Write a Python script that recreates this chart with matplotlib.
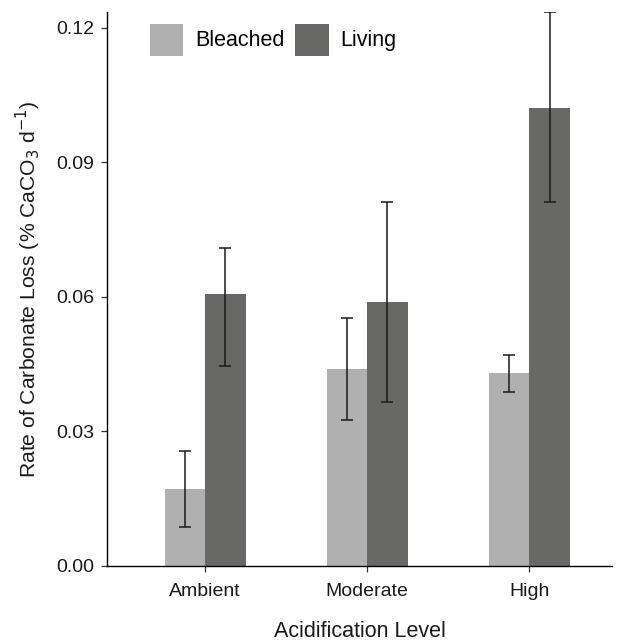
import numpy as np
import matplotlib
matplotlib.use("Agg")
import matplotlib.pyplot as plt

plt.rcParams['font.family'] = ['Liberation Sans', 'DejaVu Sans']

levels = ['Ambient', 'Moderate', 'High']
bleached = [0.0171, 0.0439, 0.0430]
bleached_lo = [0.0088, 0.0325, 0.0388]
bleached_hi = [0.0256, 0.0553, 0.0470]
living = [0.0606, 0.0588, 0.1022]
living_lo = [0.0445, 0.0365, 0.0811]
living_hi = [0.0708, 0.0811, 0.1235]

c_bleached = '#afb0af'
c_living = '#686866'

fig = plt.figure(figsize=(6.22, 6.42), dpi=100)
ax = fig.add_axes([0.172, 0.1184, 0.812, 0.8629])

x = np.arange(1, len(levels) + 1)
w = 0.25

b = np.array(bleached)
l = np.array(living)
yerr_b = [b - np.array(bleached_lo), np.array(bleached_hi) - b]
yerr_l = [l - np.array(living_lo), np.array(living_hi) - l]

ax.bar(x - w / 2, b, w, color=c_bleached, label='Bleached', zorder=2)
ax.bar(x + w / 2, l, w, color=c_living, label='Living', zorder=2)
ax.errorbar(x - w / 2, b, yerr=yerr_b, fmt='none', ecolor='#1a1a1a',
            elinewidth=1.1, capsize=4.4, capthick=1.1, zorder=3)
ax.errorbar(x + w / 2, l, yerr=yerr_l, fmt='none', ecolor='#1a1a1a',
            elinewidth=1.1, capsize=4.4, capthick=1.1, zorder=3)

ax.set_xlim(0.395, 3.51)
ax.set_ylim(0, 0.1235)
ax.set_xticks(x)
ax.set_xticklabels(levels)
ax.set_yticks([0, 0.03, 0.06, 0.09, 0.12])
ax.set_yticklabels(['0.00', '0.03', '0.06', '0.09', '0.12'])

for s in ['top', 'right']:
    ax.spines[s].set_visible(False)
for s in ['left', 'bottom']:
    ax.spines[s].set_linewidth(1.0)
    ax.spines[s].set_color('black')
ax.tick_params(axis='both', length=4, width=0.9, color='#333333',
               labelsize=14, labelcolor='#1a1a1a', pad=5)
ax.tick_params(axis='x', pad=8.5)

ax.set_xlabel('Acidification Level', fontsize=15.5, color='#1a1a1a', labelpad=15)
ax.set_ylabel(r'Rate of Carbonate Loss (% CaCO$_3$ d$^{-1}$)', fontsize=15.2,
              color='#1a1a1a', labelpad=10)

ax.legend(loc='upper left', bbox_to_anchor=(0.085, 0.979), ncol=2, frameon=False,
          fontsize=15.5, handlelength=1.55, handleheight=1.9,
          handletextpad=0.55, columnspacing=0.5, borderaxespad=0, borderpad=0)

fig.savefig('out.png', dpi=100)
